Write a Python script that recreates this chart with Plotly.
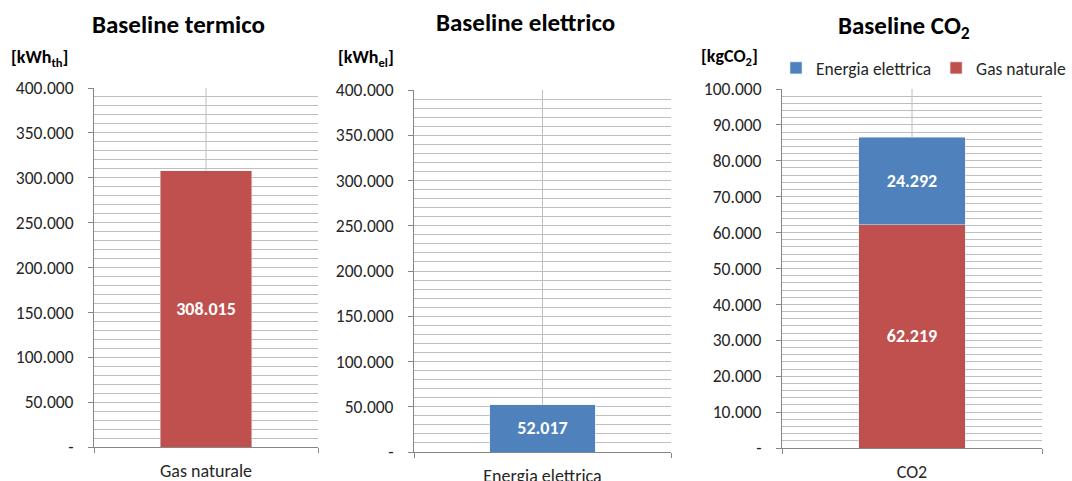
import plotly.graph_objects as go

# Palette
RED = "#C0504D"
BLUE = "#4F81BD"
GRID = "#BEBEBE"
AXIS = "#868686"
TEXT = "#262626"
FONT = "Calibri, Carlito, Lato, sans-serif"

# Thermal baseline
thermal_cat = ["Gas naturale"]
thermal_kwh = [308015]

# Electric baseline
electric_cat = ["Energia elettrica"]
electric_kwh = [52017]

# CO2 baseline (stacked)
co2_cat = ["CO2"]
co2_gas = [62219]
co2_electric = [24292]

# Axis ticks
energy_ticks = [0, 50000, 100000, 150000, 200000, 250000, 300000, 350000, 400000]
energy_tick_labels = ["-", "50.000", "100.000", "150.000", "200.000",
                      "250.000", "300.000", "350.000", "400.000"]
co2_ticks = [0, 10000, 20000, 30000, 40000, 50000, 60000, 70000, 80000, 90000, 100000]
co2_tick_labels = ["-", "10.000", "20.000", "30.000", "40.000", "50.000",
                   "60.000", "70.000", "80.000", "90.000", "100.000"]

label_font_bold = dict(family=FONT, size=18, color="white", weight="bold")

fig = go.Figure()

fig.add_trace(go.Bar(
    x=thermal_cat, y=thermal_kwh, xaxis="x", yaxis="y",
    marker_color=RED, showlegend=False,
    texttemplate="%{y:,.0f}", textposition="inside", insidetextanchor="middle",
    textfont=label_font_bold, name="Gas naturale",
))
fig.add_trace(go.Bar(
    x=electric_cat, y=electric_kwh, xaxis="x2", yaxis="y2",
    marker_color=BLUE, showlegend=False,
    texttemplate="%{y:,.0f}", textposition="inside", insidetextanchor="middle",
    textfont=label_font_bold, name="Energia elettrica",
))
fig.add_trace(go.Bar(
    x=co2_cat, y=co2_gas, xaxis="x3", yaxis="y3",
    marker_color=RED, name="Gas naturale",
    texttemplate="%{y:,.0f}", textposition="inside", insidetextanchor="middle",
    textfont=label_font_bold,
))
fig.add_trace(go.Bar(
    x=co2_cat, y=co2_electric, xaxis="x3", yaxis="y3",
    marker_color=BLUE, name="Energia elettrica",
    texttemplate="%{y:,.0f}", textposition="inside", insidetextanchor="middle",
    textfont=label_font_bold,
))


def x_axis(domain, anchor):
    return dict(
        domain=domain, anchor=anchor, type="category", automargin=False,
        showline=True, linecolor=AXIS, linewidth=1,
        ticks="outside", ticklen=5, tickcolor=AXIS, tickson="boundaries",
        showgrid=True, gridcolor=GRID, gridwidth=1,
        tickfont=dict(family=FONT, size=18, color=TEXT),
        ticklabelstandoff=7, fixedrange=True,
    )


def y_axis(domain, anchor, ticks, labels, minor_step):
    return dict(
        domain=domain, anchor=anchor, range=[0, ticks[-1]], automargin=False,
        tickmode="array", tickvals=ticks, ticktext=labels,
        showline=True, linecolor=AXIS, linewidth=1,
        ticks="outside", ticklen=5, tickcolor=AXIS,
        showgrid=True, gridcolor=GRID, gridwidth=1, zeroline=False,
        minor=dict(tickmode="linear", tick0=0, dtick=minor_step,
                   showgrid=True, gridcolor=GRID, gridwidth=1, ticks=""),
        tickfont=dict(family=FONT, size=17.5, color=TEXT),
        ticklabelstandoff=11, fixedrange=True,
    )


W, H = 1072, 481
px = lambda a, b: [a / W, b / W]
py = lambda top, bottom: [1 - bottom / H, 1 - top / H]

fig.update_layout(
    width=W, height=H, autosize=False,
    margin=dict(l=0, r=0, t=0, b=0, pad=0, autoexpand=False),
    paper_bgcolor="white", plot_bgcolor="white",
    barmode="stack", bargap=0.59,
    separators=",.",
    font=dict(family=FONT, size=17, color=TEXT),
    xaxis=x_axis(px(94, 318), "y"),
    yaxis=y_axis(py(88, 447), "x", energy_ticks, energy_tick_labels, 10000),
    xaxis2=x_axis(px(414, 671), "y2"),
    yaxis2=y_axis(py(90, 452), "x2", energy_ticks, energy_tick_labels, 10000),
    xaxis3=x_axis(px(782, 1042), "y3"),
    yaxis3=y_axis(py(89, 448), "x3", co2_ticks, co2_tick_labels, 2000),
    legend=dict(
        orientation="h", x=776 / W, y=1 - 68 / H, xanchor="left", yanchor="middle",
        traceorder="reversed", font=dict(family=FONT, size=17.5, color=TEXT),
        itemwidth=30, bgcolor="rgba(0,0,0,0)",
    ),
    showlegend=True,
)

# Category gridline through each bar centre
for xref, cat in (("x", thermal_cat[0]), ("x2", electric_cat[0]), ("x3", co2_cat[0])):
    yref = xref.replace("x", "y") + " domain"
    fig.add_shape(type="line", xref=xref, yref=yref, x0=cat, x1=cat, y0=0, y1=1,
                  line=dict(color=GRID, width=1), layer="below")

title_font = dict(family=FONT, size=25, color="black", weight="bold")
unit_font = dict(family=FONT, size=18, color="black", weight="bold")

titles = [
    ("Baseline termico", 178, 25),
    ("Baseline elettrico", 525, 22),
    ("Baseline CO<sub>2</sub>", 904, 27),
]
for text, x, y in titles:
    fig.add_annotation(text=text, x=x / W, y=1 - y / H, xref="paper", yref="paper",
                       xanchor="center", yanchor="middle", showarrow=False, font=title_font)

units = [
    ("[kWh<sub>th</sub>]", 9, 58),
    ("[kWh<sub>el</sub>]", 336, 58),
    ("[kgCO<sub>2</sub>]", 699, 57),
]
for text, x, y in units:
    fig.add_annotation(text=text, x=x / W, y=1 - y / H, xref="paper", yref="paper",
                       xanchor="left", yanchor="middle", showarrow=False, font=unit_font)

fig.write_html("out.html")
